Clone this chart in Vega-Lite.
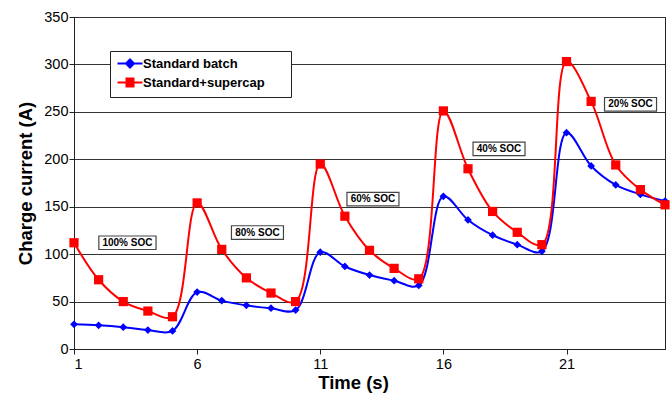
{
  "$schema": "https://vega.github.io/schema/vega-lite/v6.json",
  "width": 591,
  "height": 332,
  "autosize": {"type": "none"},
  "padding": {"left": 74, "top": 17, "right": 7, "bottom": 48},
  "background": "white",
  "config": {
    "view": {"stroke": "#222", "strokeWidth": 1},
    "font": "Liberation Sans",
    "axis": {
      "labelFont": "Liberation Sans",
      "titleFont": "Liberation Sans",
      "labelFontSize": 14.5,
      "labelColor": "#000",
      "titleColor": "#000",
      "titleFontSize": 18.5,
      "titleFontWeight": "bold",
      "domainColor": "#222",
      "tickColor": "#222",
      "gridColor": "#333",
      "gridOpacity": 1
    }
  },
  "datasets": {
    "series": [
      {"t": 1, "series": "Standard batch", "current": 26},
      {"t": 2, "series": "Standard batch", "current": 25},
      {"t": 3, "series": "Standard batch", "current": 23},
      {"t": 4, "series": "Standard batch", "current": 20},
      {"t": 5, "series": "Standard batch", "current": 19},
      {"t": 6, "series": "Standard batch", "current": 60},
      {"t": 7, "series": "Standard batch", "current": 51},
      {"t": 8, "series": "Standard batch", "current": 46},
      {"t": 9, "series": "Standard batch", "current": 43},
      {"t": 10, "series": "Standard batch", "current": 41},
      {"t": 11, "series": "Standard batch", "current": 102},
      {"t": 12, "series": "Standard batch", "current": 87},
      {"t": 13, "series": "Standard batch", "current": 78},
      {"t": 14, "series": "Standard batch", "current": 72},
      {"t": 15, "series": "Standard batch", "current": 67},
      {"t": 16, "series": "Standard batch", "current": 161},
      {"t": 17, "series": "Standard batch", "current": 136},
      {"t": 18, "series": "Standard batch", "current": 120},
      {"t": 19, "series": "Standard batch", "current": 110},
      {"t": 20, "series": "Standard batch", "current": 103},
      {"t": 21, "series": "Standard batch", "current": 228},
      {"t": 22, "series": "Standard batch", "current": 193},
      {"t": 23, "series": "Standard batch", "current": 173},
      {"t": 24, "series": "Standard batch", "current": 163},
      {"t": 25, "series": "Standard batch", "current": 156},
      {"t": 1, "series": "Standard+supercap", "current": 112},
      {"t": 2, "series": "Standard+supercap", "current": 73},
      {"t": 3, "series": "Standard+supercap", "current": 50},
      {"t": 4, "series": "Standard+supercap", "current": 40},
      {"t": 5, "series": "Standard+supercap", "current": 34},
      {"t": 6, "series": "Standard+supercap", "current": 154},
      {"t": 7, "series": "Standard+supercap", "current": 105},
      {"t": 8, "series": "Standard+supercap", "current": 75},
      {"t": 9, "series": "Standard+supercap", "current": 59},
      {"t": 10, "series": "Standard+supercap", "current": 50},
      {"t": 11, "series": "Standard+supercap", "current": 195},
      {"t": 12, "series": "Standard+supercap", "current": 140},
      {"t": 13, "series": "Standard+supercap", "current": 104},
      {"t": 14, "series": "Standard+supercap", "current": 85},
      {"t": 15, "series": "Standard+supercap", "current": 74},
      {"t": 16, "series": "Standard+supercap", "current": 251},
      {"t": 17, "series": "Standard+supercap", "current": 190},
      {"t": 18, "series": "Standard+supercap", "current": 145},
      {"t": 19, "series": "Standard+supercap", "current": 123},
      {"t": 20, "series": "Standard+supercap", "current": 110},
      {"t": 21, "series": "Standard+supercap", "current": 303},
      {"t": 22, "series": "Standard+supercap", "current": 261},
      {"t": 23, "series": "Standard+supercap", "current": 194},
      {"t": 24, "series": "Standard+supercap", "current": 168},
      {"t": 25, "series": "Standard+supercap", "current": 152}
    ],
    "labels": [
      {"label": "100% SOC", "t": 3.17, "current": 112},
      {"label": "80% SOC", "t": 8.45, "current": 122.8},
      {"label": "60% SOC", "t": 13.14, "current": 158},
      {"label": "40% SOC", "t": 18.26, "current": 211},
      {"label": "20% SOC", "t": 23.6, "current": 258}
    ]
  },
  "encoding": {
    "x": {
      "field": "t",
      "type": "quantitative",
      "scale": {"domain": [1, 25], "nice": false, "zero": false},
      "axis": {
        "title": "Time (s)",
        "values": [1, 6, 11, 16, 21],
        "grid": false,
        "tickSize": 5,
        "labelPadding": 3,
        "titlePadding": 3,
        "titleX": 279
      }
    },
    "y": {
      "field": "current",
      "type": "quantitative",
      "scale": {"domain": [0, 350], "nice": false},
      "axis": {
        "title": "Charge current (A)",
        "values": [0, 50, 100, 150, 200, 250, 300, 350],
        "grid": true,
        "tickSize": 5,
        "labelPadding": 1,
        "titlePadding": 8
      }
    }
  },
  "layer": [
    {
      "data": {"name": "series"},
      "mark": {"type": "line", "interpolate": "catmull-rom", "strokeWidth": 2},
      "encoding": {
        "color": {
          "field": "series",
          "type": "nominal",
          "scale": {"domain": ["Standard batch", "Standard+supercap"], "range": ["#0000ff", "#ff0000"]},
          "legend": {
            "title": null,
            "orient": "none",
            "legendX": 36,
            "legendY": 34,
            "fillColor": "white",
            "strokeColor": "#222",
            "padding": 6,
            "labelFont": "Liberation Sans",
            "labelFontSize": 13,
            "labelFontWeight": "bold",
            "labelColor": "#000",
            "labelOffset": 14,
            "labelLimit": 250,
            "labelExpr": "datum.label + '\u2800\u2800'",
            "symbolSize": 100,
            "symbolStrokeWidth": 2,
            "rowPadding": 2,
            "encode": {
              "symbols": {
                "update": {
                  "shape": {"signal": "datum.value == 'Standard batch' ? 'M-1,0H4M1.5,-0.8L2.3,0L1.5,0.8L0.7,0Z' : 'M-1,0H4M0.8,-0.8H2.2V0.8H0.8Z'"},
                  "fill": {"signal": "datum.value == 'Standard batch' ? '#0000ff' : '#ff0000'"},
                  "stroke": {"signal": "datum.value == 'Standard batch' ? '#0000ff' : '#ff0000'"},
                  "fillOpacity": {"value": 1},
                  "strokeWidth": {"value": 2}
                }
              }
            }
          }
        }
      }
    },
    {
      "data": {"name": "series"},
      "transform": [{"filter": "datum.series == 'Standard batch'"}],
      "mark": {"type": "point", "shape": "diamond", "filled": true, "color": "#0000ff", "size": 60, "opacity": 1}
    },
    {
      "data": {"name": "series"},
      "transform": [{"filter": "datum.series == 'Standard+supercap'"}],
      "mark": {"type": "point", "shape": "square", "filled": true, "color": "#ff0000", "size": 85, "opacity": 1}
    },
    {
      "data": {"name": "labels"},
      "mark": {"type": "point", "filled": false, "fill": "white", "stroke": "#444", "strokeWidth": 1.2, "size": 676, "opacity": 1},
      "encoding": {
        "shape": {
          "condition": {"test": "datum.label == '100% SOC'", "value": "M-2.2,-0.52H2.2V0.52H-2.2Z"},
          "value": "M-2,-0.52H2V0.52H-2Z"
        }
      }
    },
    {
      "data": {"name": "labels"},
      "mark": {"type": "text", "font": "Liberation Sans", "fontSize": 10, "fontWeight": "bold", "color": "#000", "align": "center", "baseline": "middle"},
      "encoding": {"text": {"field": "label"}}
    }
  ]
}
